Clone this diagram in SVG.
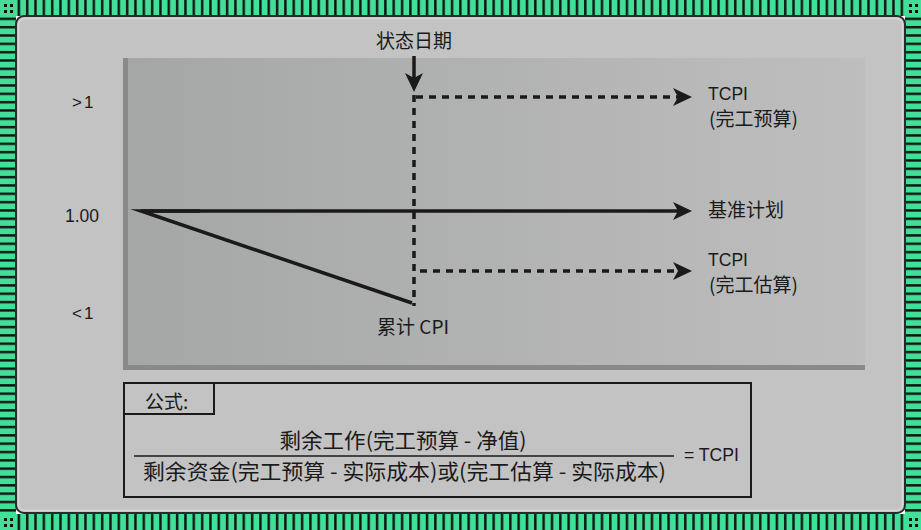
<svg xmlns="http://www.w3.org/2000/svg" width="921" height="530" viewBox="0 0 921 530">
<style>
.t{font-family:"Liberation Sans","Noto Sans CJK SC",sans-serif;fill:#1a1a1a}
.c{font-family:"Noto Sans CJK SC","Liberation Sans",sans-serif;fill:#1a1a1a}
.solid{stroke:#1a1a1a;stroke-width:3.5;fill:none}
.dash{stroke:#1a1a1a;stroke-width:3.5;fill:none;stroke-dasharray:7 6}
.thin{stroke:#1a1a1a;stroke-width:2;fill:none}
</style>
<defs>
<pattern id="vs" x="0" y="0" width="8.33" height="30" patternUnits="userSpaceOnUse">
<rect width="8.33" height="30" fill="#41df98"/><rect x="1" width="2.4" height="30" fill="#111"/>
</pattern>
<pattern id="hs" x="0" y="0" width="30" height="8.33" patternUnits="userSpaceOnUse">
<rect width="30" height="8.33" fill="#41df98"/><rect y="1" width="30" height="2.4" fill="#111"/>
</pattern>
<linearGradient id="cg" x1="0" y1="0" x2="1" y2="0">
<stop offset="0" stop-color="#a5a6a6"/><stop offset="1" stop-color="#bebebe"/>
</linearGradient>
<marker id="ah" viewBox="0 0 19 18" refX="7" refY="9" markerWidth="19" markerHeight="18" markerUnits="userSpaceOnUse" orient="auto">
<path d="M0,0 L19,9 L0,18 L5,9 Z" fill="#1a1a1a"/>
</marker>
</defs>
<g id="frame">
<rect x="0" y="0" width="921" height="16" fill="url(#vs)"/>
<rect x="0" y="514" width="921" height="16" fill="url(#vs)"/>
<rect x="0" y="0" width="16" height="530" fill="url(#hs)"/>
<rect x="905" y="0" width="16" height="530" fill="url(#hs)"/>
<rect x="0" y="0" width="16" height="16" fill="#41df98"/>
<rect x="905" y="514" width="16" height="16" fill="#41df98"/>
<rect x="905" y="0" width="16" height="16" fill="#41df98"/>
<rect x="0" y="514" width="16" height="16" fill="#41df98"/>
<g fill="#111">
<rect x="4" y="4" width="3" height="3"/><rect x="10" y="4" width="3" height="3"/><rect x="4" y="10" width="3" height="3"/><rect x="10" y="10" width="3" height="3"/>
<rect x="909" y="518" width="3" height="3"/><rect x="915" y="518" width="3" height="3"/><rect x="909" y="524" width="3" height="3"/><rect x="915" y="524" width="3" height="3"/>
<rect x="909" y="4" width="3" height="3"/><rect x="915" y="4" width="3" height="3"/><rect x="909" y="10" width="3" height="3"/><rect x="915" y="10" width="3" height="3"/>
<rect x="4" y="518" width="3" height="3"/><rect x="10" y="518" width="3" height="3"/><rect x="4" y="524" width="3" height="3"/><rect x="10" y="524" width="3" height="3"/>
</g>
<rect x="16" y="16" width="889" height="497" rx="8" fill="#c3c3c3" stroke="#2a2a2a" stroke-width="2"/>
<rect x="18.5" y="18.5" width="884" height="492" rx="6" fill="none" stroke="#d6d6d6" stroke-width="1.5"/>
</g>
<g id="chart">
<rect x="126" y="58" width="739" height="310" fill="url(#cg)"/>
<rect x="123" y="58" width="5" height="312" fill="#898989"/>
<rect x="123" y="365" width="742" height="5" fill="#898989"/>
</g>
<g id="axis-labels">
<text class="t" x="72" y="108" font-size="17" letter-spacing="2">&gt;1</text>
<text class="t" x="65" y="222" font-size="17.5">1.00</text>
<text class="t" x="72" y="319" font-size="17" letter-spacing="2">&lt;1</text>
</g>
<g id="connectors">
<line class="solid" x1="414" y1="56" x2="414" y2="80" marker-end="url(#ah)"/>
<line class="solid" x1="141" y1="211" x2="680" y2="211" marker-end="url(#ah)"/>
<path class="solid" d="M200,211 L141,211 L412,303" stroke-linejoin="miter" stroke-miterlimit="12"/>
<line class="dash" x1="414" y1="95" x2="414" y2="306"/>
<line class="dash" x1="416" y1="97" x2="680" y2="97" marker-end="url(#ah)"/>
<line class="dash" x1="420" y1="271" x2="680" y2="271" marker-end="url(#ah)"/>
</g>
<g id="status-date">
<text class="c" x="414" y="48" font-size="19" text-anchor="middle">状态日期</text>
</g>
<g id="tcpi-bac">
<text class="t" x="708" y="100" font-size="19" textLength="40" lengthAdjust="spacingAndGlyphs">TCPI</text>
<text class="c" x="709" y="126" font-size="19">(完工预算)</text>
</g>
<g id="baseline">
<text class="c" x="708" y="217" font-size="19">基准计划</text>
</g>
<g id="tcpi-eac">
<text class="t" x="708" y="266" font-size="19" textLength="40" lengthAdjust="spacingAndGlyphs">TCPI</text>
<text class="c" x="709" y="292" font-size="19">(完工估算)</text>
</g>
<g id="cum-cpi">
<text class="c" x="377" y="334" font-size="19">累计 CPI</text>
</g>
<g id="formula">
<rect class="thin" x="124" y="383" width="627" height="114"/>
<path class="thin" d="M124,414 H214 V383"/>
<text class="c" x="145" y="409" font-size="19">公式:</text>
<text class="c" x="403" y="448" font-size="21" text-anchor="middle" textLength="247" lengthAdjust="spacingAndGlyphs">剩余工作(完工预算 - 净值)</text>
<line x1="134" y1="456" x2="674" y2="456" stroke="#1a1a1a" stroke-width="1.5"/>
<text class="c" x="143" y="479" font-size="21" textLength="523" lengthAdjust="spacingAndGlyphs">剩余资金(完工预算 - 实际成本)或(完工估算 - 实际成本)</text>
<text class="t" x="684" y="461" font-size="18" textLength="55" lengthAdjust="spacingAndGlyphs">= TCPI</text>
</g>
</svg>
